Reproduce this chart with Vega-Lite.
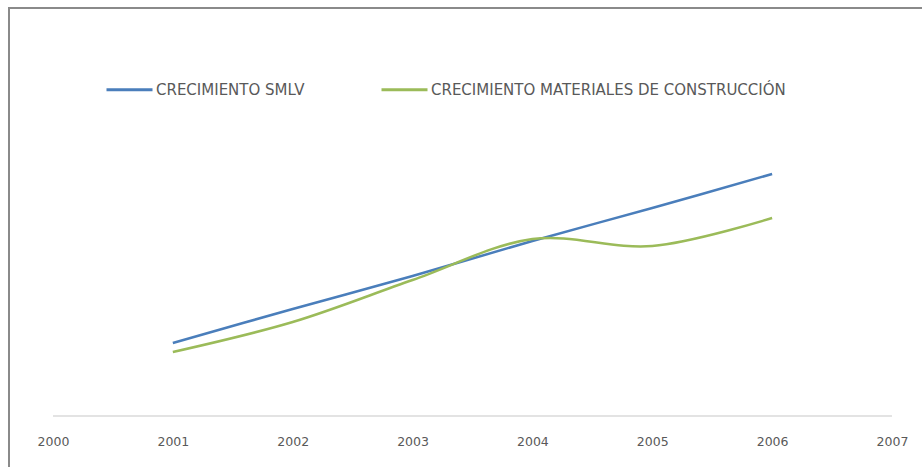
{
  "$schema": "https://vega.github.io/schema/vega-lite/v6.json",
  "autosize": {"type": "none"},
  "padding": {"left": 9, "top": 8, "right": 0, "bottom": 0},
  "width": 920,
  "height": 470,
  "background": "white",
  "config": {
    "view": {"stroke": "#8a8a8a", "strokeWidth": 2},
    "font": "DejaVu Sans"
  },
  "layer": [
    {
      "data": {"values": [{"start": 2000, "end": 2007, "base": 0}]},
      "mark": {"type": "rule", "color": "#c8c8c8", "strokeWidth": 1.2},
      "encoding": {
        "x": {
          "field": "start", "type": "quantitative",
          "scale": {"domain": [1999.633, 2007.309], "nice": false, "zero": false},
          "axis": {
            "orient": "bottom", "offset": -62, "title": null, "domain": false, "ticks": false, "tickSize": 0,
            "grid": false, "values": [2000, 2001, 2002, 2003, 2004, 2005, 2006, 2007], "format": "d",
            "labelPadding": 19, "labelFontSize": 12.5, "labelColor": "#595959", "labelFont": "DejaVu Sans"
          }
        },
        "x2": {"field": "end"},
        "y": {"field": "base", "type": "quantitative", "scale": {"domain": [-62, 408], "nice": false, "zero": false}, "axis": null}
      }
    },
    {
      "data": {
        "values": [
          {"year": 2001, "serie": "CRECIMIENTO SMLV", "valor": 73},
          {"year": 2002, "serie": "CRECIMIENTO SMLV", "valor": 107},
          {"year": 2003, "serie": "CRECIMIENTO SMLV", "valor": 140},
          {"year": 2004, "serie": "CRECIMIENTO SMLV", "valor": 175},
          {"year": 2005, "serie": "CRECIMIENTO SMLV", "valor": 208},
          {"year": 2006, "serie": "CRECIMIENTO SMLV", "valor": 242},
          {"year": 2001, "serie": "CRECIMIENTO MATERIALES DE CONSTRUCCIÓN", "valor": 64},
          {"year": 2002, "serie": "CRECIMIENTO MATERIALES DE CONSTRUCCIÓN", "valor": 94},
          {"year": 2003, "serie": "CRECIMIENTO MATERIALES DE CONSTRUCCIÓN", "valor": 136},
          {"year": 2004, "serie": "CRECIMIENTO MATERIALES DE CONSTRUCCIÓN", "valor": 177},
          {"year": 2005, "serie": "CRECIMIENTO MATERIALES DE CONSTRUCCIÓN", "valor": 170},
          {"year": 2006, "serie": "CRECIMIENTO MATERIALES DE CONSTRUCCIÓN", "valor": 198}
        ]
      },
      "mark": {"type": "line", "interpolate": "catmull-rom", "strokeWidth": 2.5},
      "encoding": {
        "x": {
          "field": "year", "type": "quantitative",
          "scale": {"domain": [1999.633, 2007.309], "nice": false, "zero": false},
          "axis": {
            "orient": "bottom", "offset": -62, "title": null, "domain": false, "ticks": false, "tickSize": 0,
            "grid": false, "values": [2000, 2001, 2002, 2003, 2004, 2005, 2006, 2007], "format": "d",
            "labelPadding": 19, "labelFontSize": 12.5, "labelColor": "#595959", "labelFont": "DejaVu Sans"
          }
        },
        "y": {"field": "valor", "type": "quantitative", "scale": {"domain": [-62, 408], "nice": false, "zero": false}, "axis": null},
        "color": {
          "field": "serie", "type": "nominal",
          "scale": {"domain": ["CRECIMIENTO SMLV", "CRECIMIENTO MATERIALES DE CONSTRUCCIÓN"], "range": ["#4a7ebb", "#9bbb59"]},
          "legend": {
            "orient": "none", "legendX": 96, "legendY": 57, "direction": "horizontal", "title": null,
            "symbolType": "stroke", "symbolSize": 2116, "symbolStrokeWidth": 3,
            "labelFontSize": 15, "labelColor": "#595959", "labelFont": "DejaVu Sans",
            "labelOffset": 2, "columnPadding": 70, "labelLimit": 600
          }
        }
      }
    }
  ]
}
